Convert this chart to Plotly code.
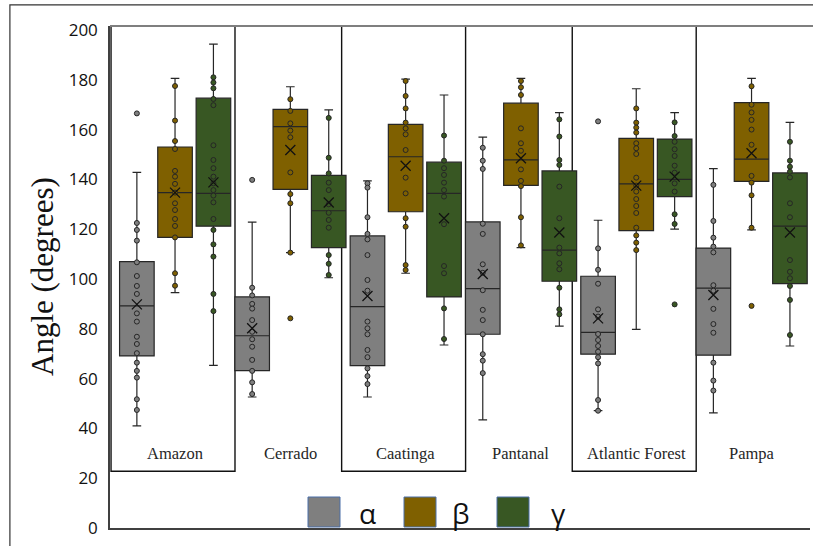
import plotly.graph_objects as go

# ---------------- data ----------------
categories = ["Amazon", "Cerrado", "Caatinga", "Pantanal", "Atlantic Forest", "Pampa"]
series_names = ["α", "β", "γ"]
highlighted = ["Amazon", "Caatinga", "Atlantic Forest"]

alpha_q1 = [69.1, 63.2, 65.2, 77.8, 69.8, 69.4]
alpha_median = [89.2, 77.2, 88.9, 96.1, 78.6, 96.3]
alpha_q3 = [107.0, 92.8, 117.3, 122.9, 101.1, 112.4]
alpha_low = [41.0, 52.6, 52.6, 43.4, 47.1, 46.2]
alpha_high = [142.8, 122.8, 139.4, 157.0, 123.6, 144.3]
alpha_mean = [89.8, 80.2, 93.2, 102.0, 84.2, 93.6]

beta_q1 = [116.7, 136.0, 127.0, 137.6, 119.4, 139.2]
beta_median = [134.7, 161.2, 149.1, 147.8, 138.2, 148.1]
beta_q3 = [153.0, 168.1, 162.1, 170.6, 156.5, 170.8]
beta_low = [94.5, 110.6, 102.3, 112.6, 79.8, 119.7]
beta_high = [180.6, 177.2, 180.3, 180.6, 176.4, 180.6]
beta_mean = [134.7, 151.8, 145.5, 148.5, 137.5, 150.5]

gamma_q1 = [121.2, 112.6, 92.8, 99.1, 133.1, 98.1]
gamma_median = [134.4, 127.4, 134.4, 111.6, 140.0, 121.2]
gamma_q3 = [172.6, 141.6, 146.9, 143.4, 156.2, 142.6]
gamma_low = [65.3, 100.5, 73.5, 81.1, 120.0, 73.1]
gamma_high = [194.3, 167.9, 173.9, 166.8, 166.8, 162.9]
gamma_mean = [138.8, 130.7, 124.4, 118.7, 141.1, 118.7]

alpha_points = [
    [166.5, 122.5, 119.7, 115.4, 106.7, 101.2, 97.2, 94.0, 86.2, 82.9, 76.8, 73.9, 70.2, 66.4, 63.1, 60.4, 51.7, 47.4],
    [139.8, 96.5, 93.4, 90.0, 88.1, 83.5, 78.8, 75.8, 72.8, 67.5, 63.1, 58.5, 53.8],
    [138.4, 136.7, 124.8, 118.1, 115.9, 109.6, 99.6, 95.3, 82.9, 80.2, 77.8, 71.5, 68.6, 64.1, 61.0, 57.8],
    [152.7, 147.5, 144.2, 122.2, 118.1, 105.9, 102.5, 95.5, 87.6, 83.5, 77.8, 69.8, 67.2, 62.2],
    [163.3, 112.3, 103.7, 98.1, 87.8, 84.9, 77.9, 75.5, 73.1, 70.8, 68.6, 66.1, 51.4, 47.1],
    [137.8, 123.3, 116.6, 113.0, 110.7, 97.5, 95.3, 88.0, 81.9, 78.4, 66.4, 59.2, 55.2],
]
beta_points = [
    [177.5, 163.6, 155.4, 152.2, 143.4, 141.1, 138.2, 134.7, 130.4, 127.7, 124.1, 121.3, 116.7, 102.3, 97.3],
    [172.2, 167.5, 162.5, 159.6, 156.9, 142.8, 134.1, 130.4, 110.6, 84.2],
    [179.5, 173.5, 168.5, 162.8, 160.5, 158.1, 151.8, 140.7, 134.4, 124.4, 121.0, 105.6, 103.6],
    [179.5, 177.0, 173.9, 160.5, 154.5, 151.5, 144.0, 139.4, 137.3, 124.8, 113.5],
    [168.5, 162.8, 160.8, 158.8, 154.5, 152.5, 150.2, 140.7, 137.5, 135.1, 132.1, 129.3, 126.5, 120.6, 117.5, 114.6, 111.6],
    [177.4, 170.0, 166.9, 163.9, 160.0, 153.9, 141.4, 138.7, 133.6, 120.6, 89.2],
]
gamma_points = [
    [181.0, 178.9, 176.6, 172.3, 169.8, 153.7, 147.8, 144.5, 141.1, 138.4, 135.7, 133.5, 130.8, 124.1, 119.7, 113.9, 109.0, 94.0, 87.1],
    [164.7, 148.7, 142.4, 138.7, 135.7, 130.0, 126.6, 123.7, 120.6, 109.6, 106.1, 101.6],
    [157.6, 147.5, 144.5, 141.8, 138.7, 135.7, 133.1, 122.0, 105.2, 102.3, 88.2, 75.9],
    [164.1, 157.2, 147.8, 145.8, 137.1, 124.4, 112.6, 110.3, 106.3, 103.9, 96.5, 87.8, 85.8],
    [162.9, 157.4, 155.1, 152.1, 149.4, 145.5, 142.7, 138.4, 135.1, 126.0, 122.1, 89.8],
    [155.1, 147.5, 145.1, 143.1, 140.8, 130.4, 124.8, 107.6, 102.9, 100.3, 97.2, 91.6, 77.5],
]

y_ticks = [0, 20, 40, 60, 80, 100, 120, 140, 160, 180, 200]

# ---------------- style ----------------
colors = ["#7f7f7f", "#7f6000", "#385723"]
offsets = [-0.331, 0.0, 0.333]
box_width = 0.30
edge = "#262626"

series = [
    (alpha_q1, alpha_median, alpha_q3, alpha_low, alpha_high, alpha_mean, alpha_points),
    (beta_q1, beta_median, beta_q3, beta_low, beta_high, beta_mean, beta_points),
    (gamma_q1, gamma_median, gamma_q3, gamma_low, gamma_high, gamma_mean, gamma_points),
]

fig = go.Figure()
idx = list(range(len(categories)))

for s, (q1, med, q3, lo, hi, mn, pts) in enumerate(series):
    xpos = [i + offsets[s] for i in idx]
    fig.add_trace(go.Box(
        x=xpos, q1=q1, median=med, q3=q3, lowerfence=lo, upperfence=hi,
        width=box_width, whiskerwidth=0.25, boxpoints=False,
        fillcolor=colors[s], line=dict(color=edge, width=1.2),
        name=series_names[s], showlegend=False, hoverinfo="skip",
    ))
for s, (q1, med, q3, lo, hi, mn, pts) in enumerate(series):
    px_, py_ = [], []
    for i, vals in enumerate(pts):
        px_ += [i + offsets[s]] * len(vals)
        py_ += vals
    fig.add_trace(go.Scatter(
        x=px_, y=py_, mode="markers", showlegend=False, hoverinfo="skip",
        marker=dict(size=5, color=colors[s], line=dict(color=edge, width=1)),
    ))
for s, (q1, med, q3, lo, hi, mn, pts) in enumerate(series):
    fig.add_trace(go.Scatter(
        x=[i + offsets[s] for i in idx], y=mn, mode="markers", showlegend=False,
        hoverinfo="skip",
        marker=dict(symbol="x-thin-open", size=10, color="#111111",
                    line=dict(color="#111111", width=1.3)),
    ))

shapes = []
# highlighted category frames
for c in highlighted:
    i = categories.index(c)
    shapes.append(dict(type="rect", xref="x", yref="y", x0=i - 0.555, x1=i + 0.52,
                       y0=22.8, y1=201.6, line=dict(color="#111111", width=1.4),
                       layer="below"))
# top plot border
shapes.append(dict(type="line", xref="paper", yref="paper", x0=0, x1=1.01, y0=1, y1=1,
                   line=dict(color="#7f7f7f", width=2)))
# outer frame
shapes.append(dict(type="rect", xref="paper", yref="paper", x0=-0.143, x1=1.2,
                   y0=-0.2, y1=1.042, line=dict(color="#333333", width=1.2)))

annotations = []
for i, c in enumerate(categories):
    annotations.append(dict(x=i, y=30, xref="x", yref="y", text=c, showarrow=False,
                            font=dict(family="Liberation Serif", size=16.5, color="#262626")))

# legend drawn as squares + text
leg_sq_px = [308, 404, 497]
leg_txt_px = [367, 461, 558]
for s, name in enumerate(series_names):
    x0 = (leg_sq_px[s] - 110) / 700
    x1 = (leg_sq_px[s] + 32 - 110) / 700
    shapes.append(dict(type="rect", xref="paper", yref="paper", x0=x0, x1=x1,
                       y0=(528 - 527) / 502, y1=(528 - 497) / 502,
                       fillcolor=colors[s], line=dict(color="#4a6ea8", width=1)))
    annotations.append(dict(x=(leg_txt_px[s] - 110) / 700, y=(528 - 513) / 502,
                            xref="paper", yref="paper", text=name, showarrow=False,
                            xanchor="center", yanchor="middle",
                            font=dict(family="Open Sans", size=28, color="#111111")))

# y axis title
annotations.append(dict(x=(42 - 110) / 700, y=0.5, xref="paper", yref="paper",
                        text="Angle (degrees)", textangle=-90, showarrow=False,
                        xanchor="center", yanchor="middle",
                        font=dict(family="Liberation Serif", size=31, color="#111111")))

fig.update_layout(
    width=813, height=546,
    margin=dict(l=110, r=3, t=26, b=18),
    paper_bgcolor="white", plot_bgcolor="white",
    showlegend=False,
    shapes=shapes, annotations=annotations,
    xaxis=dict(range=[-0.564, 5.507], showticklabels=False, ticks="", showgrid=False,
               zeroline=False, showline=True, linecolor="#404040", linewidth=1.5),
    yaxis=dict(range=[0, 201.6], tickvals=y_ticks, showgrid=False, zeroline=False,
               showline=True, linecolor="#404040", linewidth=1.5, ticks="",
               ticklabelstandoff=7,
               tickfont=dict(family="Open Sans", size=17, color="#111111")),
)

fig.write_html("out.html", post_script="document.body.style.margin='0';",
               config={"displayModeBar": False})
